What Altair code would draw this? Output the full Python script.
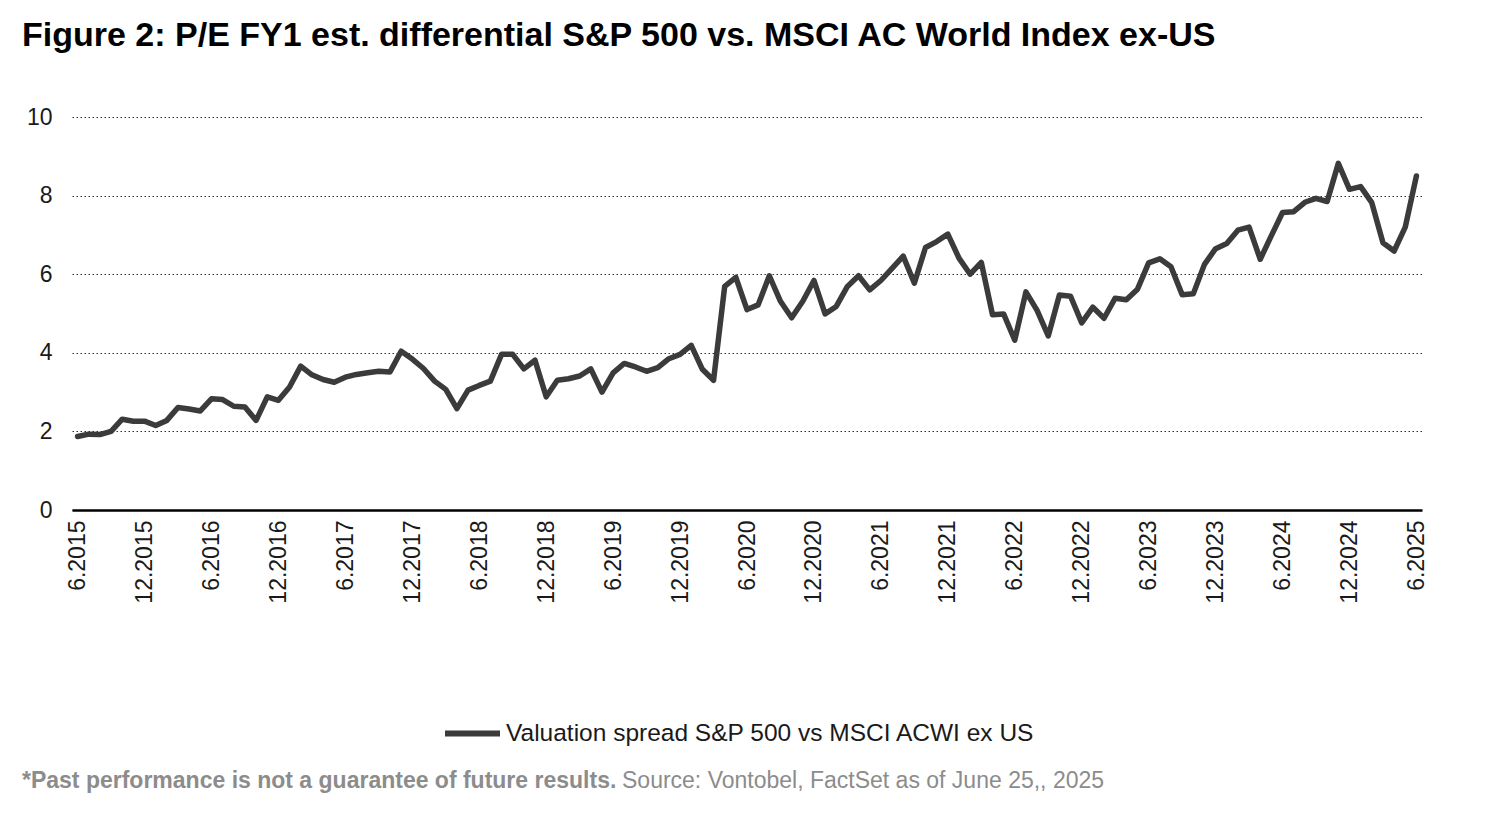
import altair as alt
import pandas as pd

# ---- data -------------------------------------------------------------
start_year, start_month, n_months = 2015, 6, 121
months = []
for i in range(n_months):
    m0 = start_month - 1 + i
    months.append(f"{m0 % 12 + 1}.{start_year + m0 // 12}")

spread = [
    1.87, 1.93, 1.92, 2.00, 2.31, 2.26, 2.26, 2.15, 2.28, 2.61, 2.57, 2.52,
    2.83, 2.81, 2.64, 2.62, 2.28, 2.88, 2.79, 3.13, 3.66, 3.44, 3.32, 3.25,
    3.38, 3.45, 3.49, 3.53, 3.51, 4.04, 3.84, 3.60, 3.28, 3.07, 2.58, 3.05,
    3.17, 3.28, 3.96, 3.96, 3.59, 3.81, 2.88, 3.30, 3.34, 3.41, 3.59, 3.00,
    3.49, 3.73, 3.64, 3.53, 3.62, 3.85, 3.96, 4.19, 3.58, 3.30, 5.69, 5.92,
    5.10, 5.22, 5.96, 5.31, 4.89, 5.31, 5.84, 4.99, 5.18, 5.69, 5.96, 5.60,
    5.84, 6.15, 6.46, 5.77, 6.68, 6.83, 7.02, 6.41, 6.00, 6.30, 4.97, 4.99,
    4.32, 5.55, 5.08, 4.43, 5.47, 5.44, 4.76, 5.16, 4.88, 5.39, 5.35, 5.62,
    6.29, 6.39, 6.19, 5.48, 5.50, 6.25, 6.65, 6.78, 7.12, 7.20, 6.38, 6.98,
    7.57, 7.59, 7.83, 7.93, 7.85, 8.82, 8.16, 8.23, 7.82, 6.80, 6.59, 7.20,
    8.50,
]
series_name = "Valuation spread S&P 500 vs MSCI ACWI ex US"
x_tick_labels = [m for m in months if m.startswith("6.") or m.startswith("12.")]
y_ticks = [0, 2, 4, 6, 8, 10]

title_text = "Figure 2: P/E FY1 est. differential S&P 500 vs. MSCI AC World Index ex-US"
footer_bold = "*Past performance is not a guarantee of future results."
footer_regular = "Source: Vontobel, FactSet as of June 25,, 2025"

df = pd.DataFrame({"month": months, "value": spread, "series": series_name})

FONT = "Liberation Sans"
LINE_COLOR = "#3b3b3b"
GRAY = "#8c8c8c"

line = alt.Chart(df).mark_line(strokeWidth=5.5, strokeCap="round", strokeJoin="round").encode(
    x=alt.X(
        "month:O",
        sort=None,
        scale=alt.Scale(type="point", padding=0.5),
        axis=alt.Axis(
            title=None,
            values=x_tick_labels,
            labelAngle=-90,
            labelFontSize=23,
            labelFont=FONT,
            labelColor="#1a1a1a",
            labelPadding=10,
            ticks=False,
            grid=False,
            domain=True,
            domainColor="#000000",
            domainWidth=2.5,
        ),
    ),
    y=alt.Y(
        "value:Q",
        scale=alt.Scale(domain=[0, 10], nice=False, zero=True),
        axis=alt.Axis(
            title=None,
            values=y_ticks,
            labelFontSize=23,
            labelFont=FONT,
            labelColor="#1a1a1a",
            labelPadding=20,
            ticks=False,
            domain=False,
            grid=True,
            gridColor="#333333",
            gridDash=[1.5, 2.5],
            gridWidth=1.2,
        ),
    ),
    color=alt.Color(
        "series:N",
        scale=alt.Scale(domain=[series_name], range=[LINE_COLOR]),
        legend=alt.Legend(
            title=None,
            orient="none",
            legendX=370,
            legendY=586,
            direction="horizontal",
            symbolType="stroke",
            symbolSize=3025,
            symbolStrokeWidth=6,
            labelFontSize=24.5,
            labelFont=FONT,
            labelColor="#1a1a1a",
            labelOffset=3,
            labelLimit=0,
            padding=0,
        ),
    ),
)

foot1 = alt.Chart(pd.DataFrame({"t": [footer_bold]})).mark_text(
    align="left", baseline="middle", fontSize=23, font=FONT, fontWeight="bold", color=GRAY
).encode(text="t:N", x=alt.value(-50), y=alt.value(664))

foot2 = alt.Chart(pd.DataFrame({"t": [footer_regular]})).mark_text(
    align="left", baseline="middle", fontSize=23, font=FONT, color=GRAY
).encode(text="t:N", x=alt.value(550), y=alt.value(664))

chart = (
    alt.layer(line, foot1, foot2)
    .properties(
        width=1350,
        height=393,
        view=alt.ViewBackground(stroke=None, strokeWidth=0),
        title=alt.TitleParams(
            text=title_text,
            anchor="start",
            frame="group",
            dx=-50,
            offset=26,
            baseline="alphabetic",
            fontSize=34,
            font=FONT,
            fontWeight="bold",
            color="#000000",
        ),
        autosize=alt.AutoSizeParams(type="none"),
        padding={"left": 64, "top": 109, "right": 30, "bottom": 295},
    )
    .configure_view(strokeWidth=0, stroke="transparent")
    .configure(background="white")
)

chart.save("out.html", embed_options={"renderer": "svg", "actions": False})
